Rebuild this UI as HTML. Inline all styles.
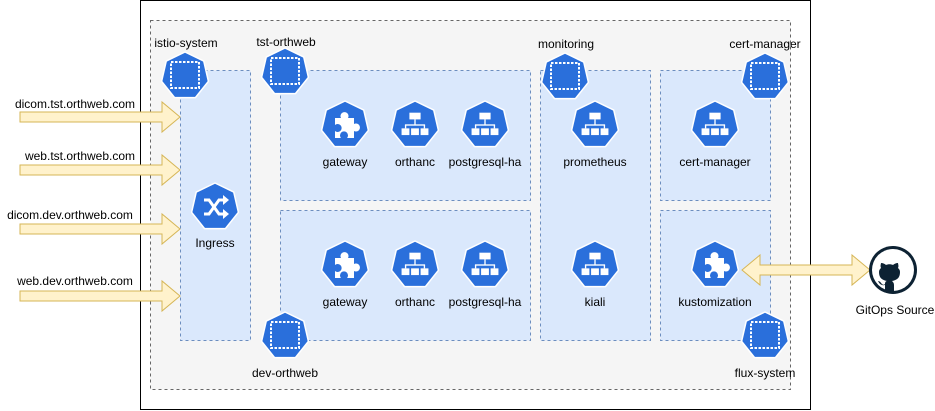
<!DOCTYPE html>
<html><head><meta charset="utf-8"><style>
body{margin:0;background:#fff}
svg{display:block}
text{font-family:"Liberation Sans",sans-serif;font-size:12px;fill:#000}
</style></head><body>
<svg width="935" height="411" viewBox="0 0 935 411" xmlns="http://www.w3.org/2000/svg">
<defs>
<polygon id="hep" points="0,-24 18.76,-14.96 23.4,5.34 10.41,21.62 -10.41,21.62 -23.4,5.34 -18.76,-14.96" fill="#2a6fdb" stroke="#fff" stroke-width="1.5" stroke-linejoin="round"/>
<g id="ns"><use href="#hep"/><rect x="-14" y="-14" width="28" height="26" fill="none" stroke="#fff" stroke-width="2" stroke-dasharray="2.5,1.5"/></g>
<g id="dep"><use href="#hep"/><g fill="#fff" transform="scale(1.12)"><rect x="-5" y="-11" width="10" height="6"/><rect x="-0.6" y="-5" width="1.2" height="5"/><rect x="-9" y="-0.6" width="18" height="1.2"/><rect x="-9" y="0" width="1.2" height="3"/><rect x="7.8" y="0" width="1.2" height="3"/><rect x="-12" y="3" width="7" height="6"/><rect x="-3.5" y="3" width="7" height="6"/><rect x="5" y="3" width="7" height="6"/></g></g>
<g id="puz"><use href="#hep"/><path fill="#fff" d="M-10,-7 h6 a4,4 0 1 1 7,0 h6 v6 a4,4 0 1 1 0,7 v7 h-7 a4,4 0 1 0 -6,0 h-6 v-7 a4,4 0 1 0 0,-6 z"/></g>
<g id="ing"><use href="#hep"/><g stroke="#fff" stroke-width="3" fill="none"><path d="M-11,-7 h5 l10,14 h5"/><path d="M-11,7 h5 l10,-14 h5"/></g><g fill="#fff"><polygon points="8,-12 14,-7 8,-2"/><polygon points="8,2 14,7 8,12"/></g></g>
<polygon id="arr" points="0,-5 142,-5 142,-15 160,0 142,15 142,5 0,5" fill="#fff2cc" stroke="#d6b656" stroke-width="1"/>
</defs>
<rect x="140.5" y="0.5" width="670" height="409" fill="#fff" stroke="#000" stroke-width="1"/>
<rect x="150.5" y="20.5" width="640" height="369" fill="#f5f5f5" stroke="#666" stroke-dasharray="3,3"/>
<g fill="#dae8fc" stroke="#6c8ebf" stroke-dasharray="3,3">
<rect x="180.5" y="70.5" width="70" height="270"/>
<rect x="280.5" y="70.5" width="250" height="130"/>
<rect x="280.5" y="210.5" width="250" height="130"/>
<rect x="540.5" y="70.5" width="110" height="270"/>
<rect x="660.5" y="70.5" width="110" height="130"/>
<rect x="660.5" y="210.5" width="110" height="130"/>
</g>
<use href="#ns" x="185" y="76"/>
<use href="#ns" x="285" y="72"/>
<use href="#ns" x="565" y="77"/>
<use href="#ns" x="765" y="77"/>
<use href="#ns" x="285" y="336"/>
<use href="#ns" x="765" y="336"/>
<use href="#ing" x="215" y="207"/>
<use href="#puz" x="345" y="125"/>
<use href="#dep" x="415" y="125"/>
<use href="#dep" x="485" y="125"/>
<use href="#puz" x="345" y="265"/>
<use href="#dep" x="415" y="265"/>
<use href="#dep" x="485" y="265"/>
<use href="#dep" x="595" y="125"/>
<use href="#dep" x="595" y="265"/>
<use href="#dep" x="715" y="125"/>
<use href="#puz" x="715" y="265"/>
<use href="#arr" x="20" y="117"/>
<use href="#arr" x="20" y="170"/>
<use href="#arr" x="20" y="229"/>
<use href="#arr" x="20" y="296"/>
<polygon points="742,270 760,255 760,265 852,265 852,255 870,270 852,285 852,275 760,275 760,285" fill="#fff2cc" stroke="#d6b656"/>
<circle cx="893" cy="270" r="24" fill="#0d2233"/>
<circle cx="893" cy="270" r="21" fill="#fff"/>
<path fill="#0d2233" d="M885,291 v-6 c-4,1 -6,-2 -7,-4 c2,0 3,2 4,3 c1,1 2,1 3,0 c0,-2 1,-3 2,-3 c-5,-1 -8,-3 -8,-9 c0,-2 1,-3 2,-4 c-1,-2 0,-4 0,-5 c2,0 4,1 5,2 c2,-1 5,-1 7,0 c1,-1 3,-2 5,-2 c0,1 1,3 0,5 c1,1 2,2 2,4 c0,6 -3,8 -8,9 c1,1 2,2 2,4 v6 z"/>
<g text-anchor="middle">
<text x="75" y="108">dicom.tst.orthweb.com</text>
<text x="80" y="160">web.tst.orthweb.com</text>
<text x="70" y="219">dicom.dev.orthweb.com</text>
<text x="75" y="285">web.dev.orthweb.com</text>
<text x="186" y="47">istio-system</text>
<text x="286" y="46">tst-orthweb</text>
<text x="566" y="48">monitoring</text>
<text x="765" y="48">cert-manager</text>
<text x="285" y="377">dev-orthweb</text>
<text x="765" y="377">flux-system</text>
<text x="215" y="247">Ingress</text>
<text x="345" y="166">gateway</text>
<text x="415" y="166">orthanc</text>
<text x="485" y="166">postgresql-ha</text>
<text x="345" y="306">gateway</text>
<text x="415" y="306">orthanc</text>
<text x="485" y="306">postgresql-ha</text>
<text x="595" y="166">prometheus</text>
<text x="595" y="306">kiali</text>
<text x="715" y="166">cert-manager</text>
<text x="715" y="306">kustomization</text>
<text x="895" y="314">GitOps Source</text>
</g>
</svg>
</body></html>
